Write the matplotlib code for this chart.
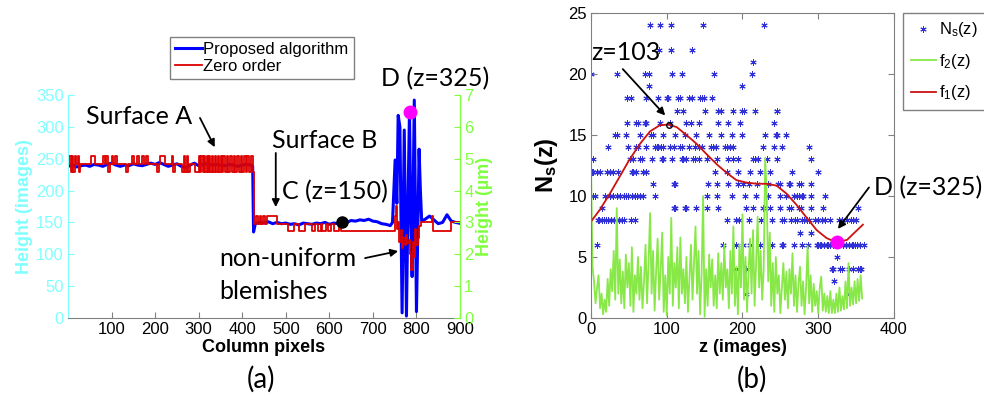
"""Recreate the two panel height / Ns(z) figure."""
import matplotlib
matplotlib.use('Agg')
import matplotlib.pyplot as plt

# Panel (a): height profile along the column pixels
BLUE_COLS = [0, 10, 20, 30, 40, 50, 60, 70, 80, 90, 100, 110, 120, 130, 140,
             150, 160, 170, 180, 190, 200, 210, 220, 230, 240, 250, 260, 270,
             280, 290, 300, 310, 320, 330, 340, 350, 360, 370, 380, 390, 400,
             410, 420, 424, 426, 430, 440, 450, 460, 470, 480, 490, 500, 510,
             520, 530, 540, 550, 560, 570, 580, 590, 600, 610, 620, 630, 640,
             650, 660, 670, 680, 690, 700, 710, 720, 730, 740, 745, 751, 755,
             758, 762, 767, 772, 777, 781, 784, 787, 790, 795, 800, 803, 806,
             809, 812, 820, 830, 840, 850, 860, 870, 880, 890, 897]
BLUE_HEIGHT = [238, 240, 237, 239, 240, 238, 241, 240, 238, 241, 243, 240,
               238, 240, 239, 242, 240, 239, 241, 243, 241, 244, 241, 238,
               240, 242, 238, 236, 240, 243, 239, 241, 242, 240, 241, 240,
               239, 241, 240, 238, 240, 241, 240, 238, 135, 148, 150, 149,
               151, 148, 150, 148, 149, 147, 148, 146, 149, 148, 147, 149,
               148, 150, 147, 149, 148, 151, 150, 153, 152, 154, 153, 155,
               152, 151, 148, 147, 145, 150, 248, 180, 318, 300, 8, 295, 3,
               200, 327, 150, 65, 342, 10, 130, 265, 200, 152, 155, 160, 154,
               148, 150, 162, 152, 150, 149]

RED_COLS = [0, 3, 6, 9, 12, 15, 18, 22, 25, 28, 52, 62, 80, 84, 88, 92, 96,
            100, 104, 108, 112, 133, 137, 148, 152, 158, 163, 170, 175, 180,
            184, 205, 208, 212, 222, 238, 242, 246, 262, 266, 269, 273, 276,
            279, 292, 300, 303, 306, 309, 312, 315, 318, 321, 324, 327, 331,
            334, 337, 340, 344, 347, 351, 354, 357, 361, 365, 368, 372, 376,
            380, 384, 388, 392, 397, 400, 404, 408, 412, 416, 420, 424,
            426, 432, 436, 440, 444, 448, 452, 458, 470, 480, 505, 518, 530,
            544, 560, 566, 574, 580, 584, 592, 598, 604, 610, 622, 626, 745,
            750, 752, 755, 758, 761, 764, 767, 770, 773, 776, 779, 782, 785,
            788, 791, 794, 797, 800, 803, 806, 810, 835, 838, 880, 900]
RED_HEIGHT = [242, 255, 229, 255, 229, 255, 242, 255, 229, 242, 255, 242,
              255, 242, 255, 229, 242, 255, 242, 255, 242, 229, 242, 255,
              242, 255, 242, 255, 242, 255, 242, 229, 242, 255, 242, 255,
              229, 242, 229, 255, 229, 255, 229, 242, 229, 255, 229, 255,
              229, 255, 229, 255, 229, 255, 229, 255, 229, 255, 229, 255,
              229, 255, 229, 255, 229, 255, 229, 255, 229, 255, 229, 255,
              229, 255, 229, 255, 229, 255, 229, 255, 229,
              148, 160, 148, 160, 148, 160, 148, 160, 160, 148, 136, 148,
              136, 148, 136, 148, 136, 148, 136, 148, 136, 148, 136, 148,
              136, 136, 160, 175, 140, 150, 120, 138, 110, 125, 115, 130,
              118, 122, 100, 75, 120, 95, 140, 115, 125, 145, 150, 160, 136,
              150, 150]

POINT_C = (630, 150)
POINT_D_A = (785, 323)

# Panel (b): number of sharp pixels per image
NS_LEVELS = [24, 22, 21, 20, 19, 18, 17, 16, 15, 14, 13, 12, 11, 10, 9, 8,
             7, 6, 5, 4, 3, 2]
NS_Z = [
    [78, 91, 105, 148, 228],
    [90, 106, 134],
    [214],
    [0, 34, 71, 76, 107, 120, 162, 213],
    [77, 200],
    [47, 53, 73, 89, 100, 102, 115, 117, 130, 133, 144, 147, 149, 160],
    [113, 122, 151, 168, 171, 188, 200, 202, 217, 245, 246],
    [47, 60, 62, 71, 73, 91, 104, 126, 132, 142, 168, 181, 197, 242],
    [32, 34, 46, 65, 79, 82, 95, 111, 124, 139, 156, 171, 186, 200, 230,
     244, 245, 257],
    [22, 49, 60, 62, 73, 84, 87, 89, 92, 95, 104, 109, 117, 120, 129, 137,
     143, 146, 159, 161, 165, 177, 179, 183, 188, 227, 241, 252, 288],
    [3, 51, 56, 65, 67, 80, 94, 95, 107, 120, 122, 126, 135, 137, 142, 153,
     166, 181, 188, 194, 214, 216, 220, 232, 245, 291],
    [1, 3, 8, 12, 21, 25, 29, 36, 54, 56, 60, 69, 72, 73, 164, 179, 194, 210,
     223, 236, 266, 300],
    [82, 109, 111, 155, 166, 181, 194, 201, 208, 219, 234, 247, 250, 261,
     263, 275, 277, 291],
    [2, 5, 18, 25, 29, 34, 38, 43, 46, 49, 54, 58, 61, 65, 69, 84, 153, 166,
     186, 203, 218, 234, 250, 258, 268, 272, 275, 278, 280, 291, 309],
    [14, 109, 111, 124, 126, 139, 153, 168, 205, 214, 227, 236, 250, 262,
     264, 275, 277, 291, 306, 353],
    [9, 11, 14, 17, 20, 23, 26, 30, 33, 37, 41, 43, 53, 58, 179, 192, 195,
     209, 225, 239, 252, 255, 264, 269, 272, 278, 281, 285, 288, 296, 300,
     305, 309, 315, 327, 331, 338, 343, 346, 350],
    [276, 290],
    [8, 174, 192, 201, 210, 223, 239, 252, 254, 268, 278, 287, 298, 300, 302,
     304, 308, 311, 313, 315, 320, 324, 328, 333, 337, 341, 344, 346, 348,
     351, 355, 360],
    [325],
    [192, 205, 318, 320, 329, 331, 340, 346, 353, 355, 357],
    [321],
    [205, 340],
]

F1_Z = [0, 12, 25, 38, 51, 65, 78, 91, 102, 113, 126, 139, 153, 166, 179,
        192, 205, 219, 232, 245, 258, 271, 285, 298, 311, 324, 338, 348, 359]
F1_VALUES = [7.9, 8.9, 10.2, 11.6, 13.0, 14.3, 15.3, 15.8, 15.85, 15.65, 15.0,
             14.3, 13.4, 12.6, 11.9, 11.3, 11.1, 11.0, 11.0, 10.85, 10.2, 9.3,
             8.2, 7.2, 6.55, 6.2, 6.4, 7.0, 7.65]

F2_Z = list(range(0, 360, 2))
F2_VALUES = [12.5, 4.2, 3.0, 1.2, 2.5, 3.5, 0.8, 2.0, 0.3, 1.5, 0.5, 3.2,
             1.0, 4.0, 2.2, 5.5, 1.5, 9.0, 2.0, 4.8, 1.2, 3.8, 0.8, 5.2,
             2.5, 4.5, 1.0, 5.8, 0.5, 3.5, 2.0, 5.0, 1.5, 4.2, 0.8, 3.0,
             6.0, 1.2, 4.5, 8.6, 2.0, 5.5, 0.6, 3.8, 6.5, 1.5, 4.0, 7.0,
             0.5, 3.5, 0.2, 5.0, 2.0, 8.2, 1.0, 4.5, 2.5, 5.8, 0.8, 6.6,
             2.0, 4.0, 1.2, 5.0, 0.5, 3.2, 6.0, 1.5, 4.5, 7.5, 2.0, 5.5,
             0.3, 3.5, 10.0, 0.1, 4.0, 1.0, 5.2, 2.5, 4.8, 1.0, 3.5, 0.8,
             5.3, 2.0, 4.5, 1.5, 6.0, 2.5, 4.0, 0.8, 5.5, 2.0, 7.5, 1.0,
             4.2, 0.3, 6.0, 2.5, 8.5, 1.5, 5.0, 0.5, 3.8, 6.5, 2.0, 7.2,
             1.0, 4.5, 8.3, 2.5, 5.5, 1.5, 4.0, 13.1, 10.0, 3.0, 7.0, 1.0,
             4.5, 0.5, 5.0, 2.0, 3.5, 0.4, 2.5, 4.5, 1.5, 3.8, 0.8, 4.0,
             2.0, 5.3, 1.0, 3.5, 0.5, 2.8, 4.2, 1.0, 3.0, 0.3, 2.5, 5.9,
             1.2, 3.5, 0.5, 2.8, 1.0, 2.2, 0.4, 2.5, 3.4, 0.6, 2.0, 0.5,
             1.8, 0.4, 2.2, 0.4, 1.5, 0.4, 2.0, 0.5, 2.5, 0.6, 1.8, 0.7,
             3.0, 0.8, 4.5, 1.0, 2.5, 1.1, 3.0, 1.2, 3.2, 1.4, 3.5, 1.6]

POINT_PEAK = (103, 15.85)
POINT_D_B = (325, 6.2)

CYAN = '#80ffff'
GREEN = '#80ff40'
F2_GREEN = '#88e848'
AXIS_GREY = '#808080'
NOTE_FONT = ['Lato', 'DejaVu Sans']
NOTE_SIZE = 18


def style_axes(ax):
    ax.tick_params(direction='in', length=4, labelsize=12, pad=3)
    for spine in ax.spines.values():
        spine.set_color(AXIS_GREY)


def note(ax, x, y, text, ha='center'):
    ax.text(x, y, text, fontsize=NOTE_SIZE, family=NOTE_FONT,
            ha=ha, va='center')


def arrow(ax, start, end):
    ax.annotate('', xy=end, xytext=start,
                arrowprops=dict(arrowstyle='-|>', color='k', lw=1.3,
                                mutation_scale=11, shrinkA=0, shrinkB=0))


def plot_panel_a(fig):
    ax = fig.add_axes([0.0691, 0.2129, 0.3984, 0.552])
    style_axes(ax)
    ax.plot(BLUE_COLS, BLUE_HEIGHT, color='#0000ff', lw=2.2,
            label='Proposed algorithm')
    ax.plot(RED_COLS, RED_HEIGHT, color='#dd0000', lw=1.3,
            drawstyle='steps-post', label='Zero order')
    ax.plot(*POINT_C, 'o', color='k', ms=8)
    ax.plot(*POINT_D_A, 'o', color='#ff00ff', ms=9)

    ax.set_xlim(0, 900)
    ax.set_ylim(0, 350)
    ax.set_xticks(range(100, 1000, 100))
    ax.set_yticks(range(0, 400, 50))
    ax.spines['top'].set_visible(False)
    ax.spines['left'].set_color(CYAN)
    ax.tick_params(axis='y', colors=CYAN, labelcolor=CYAN)
    ax.tick_params(axis='x', colors=AXIS_GREY, labelcolor='k')
    ax.set_xlabel('Column pixels', fontsize=13, fontweight='bold', labelpad=1)
    ax.set_ylabel('Height (images)', fontsize=13, fontweight='bold',
                  color=CYAN, labelpad=2)

    # Second axis in micrometres
    ax2 = ax.twinx()
    ax2.set_ylim(0, 7)
    ax2.set_yticks(range(0, 8))
    ax2.tick_params(direction='in', length=4, labelsize=12, pad=3,
                    colors=GREEN, labelcolor=GREEN)
    for side in ['top', 'left', 'bottom']:
        ax2.spines[side].set_visible(False)
    ax2.spines['right'].set_color(GREEN)
    ax2.set_ylabel('Height (µm)', fontsize=13, fontweight='bold',
                   color=GREEN, labelpad=2)

    # Annotations
    note(ax, 163, 317, 'Surface A')
    arrow(ax, (303, 314), (337, 268))
    note(ax, 590, 278, 'Surface B')
    arrow(ax, (477, 259), (477, 174))
    note(ax, 612, 198, 'C (z=150)')
    note(ax, 843, 375, 'D (z=325)')
    note(ax, 347, 94, 'non-uniform', ha='left')
    note(ax, 347, 41, 'blemishes', ha='left')
    arrow(ax, (682, 94), (758, 105))

    leg = ax.legend(loc='upper left', bbox_to_anchor=(0.1728, 0.908),
                    bbox_transform=fig.transFigure, borderaxespad=0,
                    fontsize=12, fancybox=False, framealpha=1,
                    edgecolor=AXIS_GREY, handlelength=1.6,
                    handletextpad=0.1, labelspacing=0.1, borderpad=0.3)
    leg.get_frame().set_linewidth(1)
    fig.text(0.265, 0.06, '(a)', fontsize=20, family=NOTE_FONT,
             ha='center', va='center')


def plot_panel_b(fig):
    ax = fig.add_axes([0.6006, 0.2129, 0.3079, 0.755])
    style_axes(ax)
    ax.tick_params(top=True, right=True, colors=AXIS_GREY, labelcolor='k')

    for i, (level, zs) in enumerate(zip(NS_LEVELS, NS_Z)):
        ax.plot(zs, [level] * len(zs), linestyle='none', marker=(6, 2, 0),
                color='#3030d8', ms=4.5, mew=0.7,
                label=r'N$_\mathregular{s}$(z)' if i == 0 else None)
    ax.plot(F2_Z, F2_VALUES, color=F2_GREEN, lw=1.3, label=r'f$_2$(z)')
    ax.plot(F1_Z, F1_VALUES, color='#cc1111', lw=1.3, label=r'f$_1$(z)')
    ax.plot(*POINT_PEAK, 'o', mfc='none', mec='k', ms=4, mew=1)
    ax.plot(*POINT_D_B, 'o', color='#ff00ff', ms=9)

    ax.set_xlim(0, 400)
    ax.set_ylim(0, 25)
    ax.set_xticks(range(0, 500, 100))
    ax.set_yticks(range(0, 30, 5))
    ax.set_xlabel('z (images)', fontsize=13, fontweight='bold', labelpad=1)
    ax.set_ylabel(r'N$_\mathbf{s}$(z)', fontsize=17, fontweight='bold',
                  labelpad=6)

    note(ax, 46, 21.8, 'z=103')
    arrow(ax, (42, 20.4), (98, 16.6))
    note(ax, 373, 10.7, 'D (z=325)', ha='left')
    arrow(ax, (367, 10.7), (326, 7.3))

    leg = ax.legend(loc='upper left', bbox_to_anchor=(0.9177, 0.968),
                    bbox_transform=fig.transFigure, borderaxespad=0,
                    fontsize=12, fancybox=False, framealpha=1,
                    edgecolor=AXIS_GREY, handlelength=1.5,
                    handletextpad=0.2, labelspacing=0.75, borderpad=0.45)
    leg.get_frame().set_linewidth(1)
    fig.text(0.764, 0.06, '(b)', fontsize=20, family=NOTE_FONT,
             ha='center', va='center')


def main():
    plt.rcParams['font.family'] = ['Liberation Sans', 'DejaVu Sans']
    plt.rcParams['mathtext.fontset'] = 'custom'
    plt.rcParams['mathtext.rm'] = 'Liberation Sans'
    plt.rcParams['mathtext.bf'] = 'Liberation Sans:bold'
    plt.rcParams['mathtext.it'] = 'Liberation Sans:italic'
    plt.rcParams['mathtext.default'] = 'regular'

    fig = plt.figure(figsize=(9.84, 4.04), dpi=100)
    plot_panel_a(fig)
    plot_panel_b(fig)
    fig.savefig('out.png', dpi=100)
    plt.close(fig)


if __name__ == '__main__':
    main()
